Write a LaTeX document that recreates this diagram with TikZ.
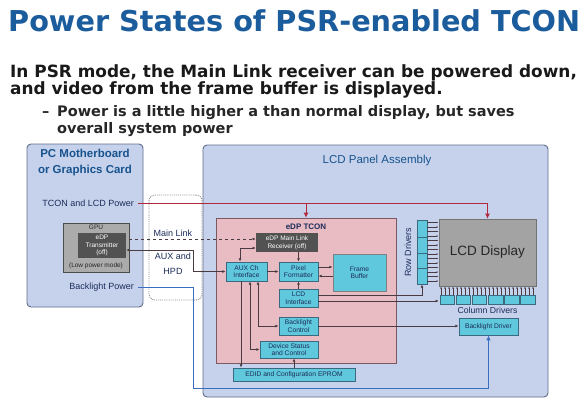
\documentclass[tikz,border=0pt]{standalone}
\usepackage{fontspec}
\usepackage{graphicx}
\setmainfont{Liberation Sans}
\newfontfamily\verd{DejaVu Sans}
\usetikzlibrary{arrows.meta,calc}
\definecolor{titleblue}{HTML}{1B5C9C}
\definecolor{panelfill}{HTML}{C6D2EC}
\definecolor{panelline}{HTML}{5E6C8C}
\definecolor{tconfill}{HTML}{E9BCC4}
\definecolor{tconline}{HTML}{7A5A62}
\definecolor{cyanfill}{HTML}{5FC8DC}
\definecolor{cyanline}{HTML}{3A6A80}
\definecolor{labtext}{HTML}{1C2C5A}
\definecolor{wire}{HTML}{4A3A42}
\definecolor{redwire}{HTML}{B0283C}
\definecolor{bluewire}{HTML}{3A6EC0}
\tikzset{
  x=1pt, y=-1pt,
  tip/.style={-{Latex[length=3.2pt,width=2.8pt]}},
  tipboth/.style={{Latex[length=3.2pt,width=2.8pt]}-{Latex[length=3.2pt,width=2.8pt]}},
  wireline/.style={draw=wire, line width=0.7pt},
  panel/.style={draw=panelline, fill=panelfill, rounded corners=4pt, line width=0.9pt, inner sep=0pt},
  cybox/.style={draw=cyanline, fill=cyanfill, line width=0.8pt, inner sep=0pt, font=\fontsize{6.7}{7.4}\selectfont, text=labtext, align=center},
  darkbox/.style={draw=none, fill=black!68, inner sep=0pt, font=\fontsize{6.5}{7}\selectfont, text=white, align=center},
  lab/.style={font=\fontsize{9}{10}\selectfont, text=labtext, inner sep=0pt, align=center},
}
\begin{document}
\begin{tikzpicture}
\useasboundingbox (0,0) rectangle (587,400);
\fill[white] (0,0) rectangle (587,400);

% Title and text
\node[anchor=west, inner sep=0pt, text=titleblue, font=\verd\bfseries] (title) at (8,21) {\resizebox{572pt}{!}{Power States of PSR-enabled TCON}};
\node[anchor=west, inner sep=0pt, align=left, text=black!90, font=\verd\bfseries\fontsize{16.9}{17.5}\selectfont] (body) at (10,81.5) {In PSR mode, the Main Link receiver can be powered down,\\and video from the frame buffer is displayed.};
\node[anchor=west, inner sep=0pt, align=left, text=black!85, font=\verd\bfseries\fontsize{14.5}{17}\selectfont] (bullet) at (42,121.5) {\makebox[15pt][l]{–}Power is a little higher a than normal display, but saves\\\hspace*{15pt}overall system power};

% Panels
\node[panel, minimum width=345pt, minimum height=252pt] (lpa) at (375.5,271) {};
\node[panel, minimum width=116pt, minimum height=163pt] (pc) at (85,225.5) {};
\node[draw=black!45, densely dotted, fill=white, rounded corners=6pt, line width=0.9pt, minimum width=53pt, minimum height=105pt, inner sep=0pt] (link) at (175.5,247.5) {};
\node[draw=tconline, fill=tconfill, line width=0.8pt, minimum width=180pt, minimum height=145pt, inner sep=0pt] (tcon) at (306,290.5) {};

\node[font=\fontsize{11.5}{16}\selectfont\bfseries, text=titleblue!90!black, align=center, inner sep=0pt] (pclab) at (85,163) {PC Motherboard\\or Graphics Card};
\node[font=\fontsize{11.5}{13}\selectfont, text=titleblue!90!black, inner sep=0pt] (lpalab) at (377,161) {LCD Panel Assembly};
\node[font=\fontsize{8}{9}\selectfont\bfseries, text=labtext, inner sep=0pt] (tconlab) at (306,227) {eDP TCON};

\node[lab, anchor=east] (tcpw) at (134,203) {TCON and LCD Power};
\node[lab, anchor=east] (blpw) at (134,287) {Backlight Power};
\node[lab] (mlink) at (173,233) {Main Link};
\node[lab, font=\fontsize{9}{14.5}\selectfont] (auxhpd) at (173,263.5) {AUX and\\HPD};

% GPU
\node[draw=black!70, fill=black!33, line width=0.8pt, minimum width=66pt, minimum height=49pt, inner sep=0pt] (gpu) at (96,247.5) {};
\node[font=\fontsize{6.5}{7}\selectfont, text=black!85, inner sep=0pt] (gpulab) at (96,227.5) {GPU};
\node[darkbox, minimum width=48pt, minimum height=25pt, font=\fontsize{6.5}{7.6}\selectfont] (trans) at (102,245.5) {eDP\\Transmitter\\(off)};
\node[font=\fontsize{6.5}{7}\selectfont, text=black!85, inner sep=0pt] (lowpw) at (96,265.5) {(Low power mode)};

% TCON internals
\node[darkbox, minimum width=62pt, minimum height=19pt, font=\fontsize{6.5}{7.8}\selectfont] (rx) at (287,242.5) {eDP Main Link\\Receiver (off)};
\node[cybox, minimum width=41pt, minimum height=19pt] (aux) at (246.5,271.5) {AUX Ch\\Interface};
\node[cybox, minimum width=39pt, minimum height=19pt] (pf) at (298.5,271.5) {Pixel\\Formatter};
\node[cybox, draw=black!50, line width=1pt, minimum width=53pt, minimum height=37pt] (fb) at (359.5,272.5) {Frame\\Buffer};
\node[cybox, minimum width=39pt, minimum height=18pt] (lcdi) at (298.5,298) {LCD\\Interface};
\node[cybox, minimum width=39pt, minimum height=18pt] (bc) at (298.5,326) {Backlight\\Control};
\node[cybox, minimum width=58pt, minimum height=17pt] (dsc) at (289,349.5) {Device Status\\and Control};
\node[cybox, minimum width=122pt, minimum height=13pt] (edid) at (294,374.5) {EDID and Configuration EPROM};

% LCD display side
\node[draw=black!55, fill=black!36, line width=0.8pt, minimum width=97pt, minimum height=67pt, inner sep=0pt, font=\fontsize{13.5}{15}\selectfont, text=black!85] (lcd) at (487.5,252.5) {LCD Display};
\node[cybox, minimum width=10pt, minimum height=64pt] (rd) at (422,252) {};
\foreach \yy in {237,253,268} \draw[cyanline, line width=0.6pt] (417,\yy) -- (427,\yy);
\node[lab, rotate=90] (rdlab) at (408,252) {Row Drivers};
\foreach \i in {0,...,13} \draw[wire, line width=0.5pt, -{Latex[length=2pt,width=1.6pt]}] (427,222.5+4.5*\i) -- (438.5,222.5+4.5*\i);
\node[draw=none, minimum width=97pt, minimum height=9pt, inner sep=0pt] (cd) at (487.5,299.5) {};
\foreach \i in {0,...,5} \fill[cyanfill, draw=cyanline, line width=0.5pt] (440+16.1*\i,295) rectangle (454.5+16.1*\i,304);
\foreach \i in {0,...,23} \draw[wire, line width=0.5pt, -{Latex[length=2pt,width=1.6pt]}] (441+4*\i,295) -- (441+4*\i,286.5);
\node[lab, font=\fontsize{8.7}{10}\selectfont] (cdlab) at (487.5,310.5) {Column Drivers};
\node[cybox, minimum width=59pt, minimum height=17pt] (bd) at (488.5,326.5) {Backlight Driver};

% Power connectors
\coordinate (tp) at (138,203);
\draw[redwire, line width=0.8pt, -{Latex[length=5pt,width=5pt]}] (tp) -| (lcd.north);
\draw[redwire, line width=0.8pt, -{Latex[length=5pt,width=5pt]}] (tcon.north |- tp) -- (tcon.north);
\coordinate (bp) at (138,287);
\draw[bluewire, line width=0.9pt, -{Latex[length=5pt,width=4.5pt]}] (bp) -- ++(55,0) -- ++(0,101) -| (bd.south);

% Link connectors
\draw[wireline, dashed, tip] ([yshift=8.5pt]gpu.east) -- ([yshift=3.5pt]rx.west);
\draw[wireline, tipboth] ([yshift=-4.5pt]trans.east) -- ++(67,0) |- (aux.west);
\draw[wireline, tipboth] ([xshift=-6.5pt]aux.north) |- ([yshift=-5.5pt]rx.west);
\draw[wireline, tip] (pf.north |- rx.south) -- (pf.north);
\draw[wireline, tip] (aux.east) -- (pf.west);
\draw[wireline, tip] ([yshift=4.5pt]pf.east) -- ([yshift=4.5pt]pf.east -| fb.west);
\draw[wireline, tip] ([yshift=-4.5pt]pf.east -| fb.west) -- ([yshift=-4.5pt]pf.east);
\draw[wireline, tip] (lcdi.north) -- (pf.south);
\draw[wireline, tip] ([yshift=3pt]lcdi.east) -| (rd.south);
\draw[wireline, tip] ([yshift=-3pt]lcdi.east) -- ([yshift=-3pt]lcdi.east -| cd.west);
\draw[wireline, tip] (bc.east) -- (bc.east -| bd.west);
\draw[wireline, tip] ([xshift=-5.5pt]aux.south) -- ([xshift=-5.5pt]aux.south |- edid.north);
\draw[wireline, tipboth] ([xshift=3.5pt]aux.south) |- (dsc.west);
\draw[wireline, tipboth] ([xshift=11.5pt]aux.south) |- (bc.west);
\draw[wireline, tip] (edid.north) -- (edid.north |- dsc.south);
\end{tikzpicture}
\end{document}
